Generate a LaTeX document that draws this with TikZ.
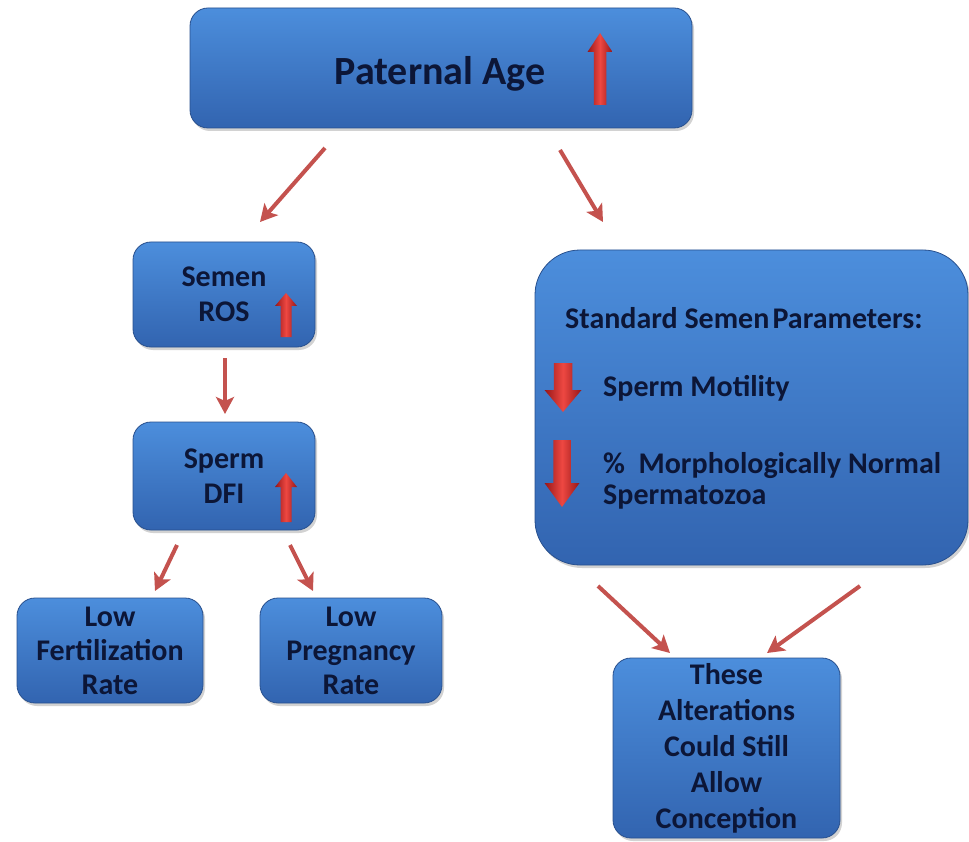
\documentclass[tikz,border=0pt]{standalone}
\usepackage{fontspec}
\setmainfont{Carlito}
\usetikzlibrary{arrows.meta,shadows}
\definecolor{boxtop}{RGB}{76,142,220}
\definecolor{boxbot}{RGB}{50,100,176}
\definecolor{boxedge}{RGB}{40,80,142}
\definecolor{txt}{RGB}{12,22,55}
\definecolor{conn}{RGB}{196,82,78}
\definecolor{arrdark}{RGB}{150,22,24}
\definecolor{arrlight}{RGB}{238,72,66}
% #1 x centre, #2 tail y, #3 head base y, #4 tip y, #5 half width of head
\newcommand\vblock[5]{%
  \shade[left color=arrdark,right color=arrdark,middle color=arrlight]
  ({#1-0.5*#5},#2) -- ({#1-0.5*#5},#3) -- ({#1-#5},#3) -- (#1,#4) --
  ({#1+#5},#3) -- ({#1+0.5*#5},#3) -- ({#1+0.5*#5},#2) -- cycle;}
\begin{document}
\begin{tikzpicture}[x=1pt,y=-1pt,
  box/.style={rounded corners=18pt, top color=boxtop, bottom color=boxbot,
    draw=boxedge, line width=0.8pt,
    drop shadow={shadow xshift=2pt,shadow yshift=-3pt,opacity=0.35},
    text=txt, font=\bfseries\fontsize{30}{35}\selectfont, align=center, inner sep=0pt},
  lbl/.style={text=txt, font=\bfseries\fontsize{30}{35}\selectfont, inner sep=0pt},
  conn/.style={draw=conn, line width=4pt, -{Stealth[length=17pt,width=18pt,inset=4pt]}}]
\fill[white] (0,0) rectangle (969,842);
\useasboundingbox (0,0) rectangle (969,842);

% boxes
\node[box, minimum width=502pt, minimum height=120pt] (pa) at (441,68) {};
\node[lbl, font=\bfseries\fontsize{40}{44}\selectfont] (pat) at (440,74) {Paternal Age};

\node[box, minimum width=182pt, minimum height=105pt] (ros) at (224,294.5) {Semen\\ROS};
\node[box, minimum width=182pt, minimum height=108pt] (dfi) at (224,476) {Sperm\\DFI};
\node[box, minimum width=186pt, minimum height=105pt, font=\bfseries\fontsize{30}{34}\selectfont] (fert) at (110,650.5) {Low\\Fertilization\\Rate};
\node[box, minimum width=182pt, minimum height=105pt, font=\bfseries\fontsize{30}{34}\selectfont] (preg) at (351,650.5) {Low\\Pregnancy\\Rate};

\node[box, rounded corners=45pt, minimum width=433pt, minimum height=315pt] (ssp) at (751.5,407.5) {};
\node[lbl, anchor=west] (ssp1) at (565,318) {Standard Semen\hspace{-0.12em} Parameters:};
\node[lbl, anchor=west] (ssp2) at (603,388) {Sperm Motility};
\node[lbl, anchor=west] (ssp3) at (603,466) {\%\ \ Morphologically Normal};
\node[lbl, anchor=west] (ssp4) at (603,497) {Spermatozoa};

\node[box, minimum width=227pt, minimum height=180pt, font=\bfseries\fontsize{30}{36}\selectfont] (alt) at (726.5,748) {These\\Alterations\\Could Still\\Allow\\Conception};

% block arrows inside boxes
\vblock{600}{105}{52}{33}{12.5}
\vblock{286}{337}{306}{293}{11}
\vblock{286}{522}{487}{473}{11}
\vblock{563}{363}{390}{412}{18.5}
\vblock{562}{440}{483}{507}{17.5}

% connectors
\coordinate (c1s) at (325,148); \coordinate (c1e) at (260,222);
\coordinate (c2s) at (560,150); \coordinate (c2e) at (603,222);
\coordinate (c3s) at (225,358); \coordinate (c3e) at (225,414);
\coordinate (c4s) at (177,545); \coordinate (c4e) at (155,591);
\coordinate (c5s) at (290,545); \coordinate (c5e) at (313,591);
\coordinate (c6s) at (598,586); \coordinate (c6e) at (670,653);
\coordinate (c7s) at (860,586); \coordinate (c7e) at (767,653);
\draw[conn] (c1s) -- (c1e);
\draw[conn] (c2s) -- (c2e);
\draw[conn] (c3s) -- (c3e);
\draw[conn] (c4s) -- (c4e);
\draw[conn] (c5s) -- (c5e);
\draw[conn] (c6s) -- (c6e);
\draw[conn] (c7s) -- (c7e);
\end{tikzpicture}
\end{document}
